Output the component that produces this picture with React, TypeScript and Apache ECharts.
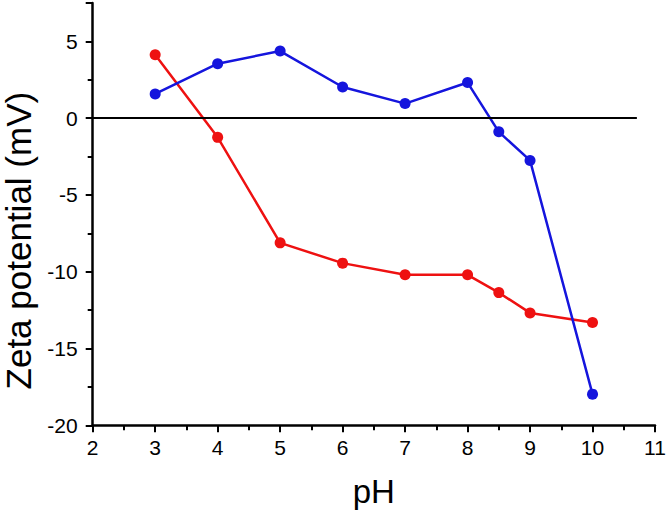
import React, { useEffect, useRef } from "react";
import * as echarts from "echarts";

const phValues = [3, 4, 5, 6, 7, 8, 8.5, 9, 10];
const blueSeries = [1.58, 3.55, 4.37, 2.03, 0.95, 2.32, -0.89, -2.75, -17.97];
const redSeries = [4.13, -1.25, -8.12, -9.44, -10.2, -10.2, -11.36, -12.68, -13.3];
const zeroLineEnd = 10.71;

export default function App() {
  const ref = useRef<HTMLDivElement>(null);
  useEffect(() => {
    document.body.style.margin = "0";
    const chart = echarts.init(ref.current!, null, { renderer: "svg" });
    const font = "Liberation Sans, Arial, sans-serif";
    const mk = (vals: number[]) => phValues.map((x, i) => [x, vals[i]]);
    chart.setOption({
      animation: false,
      backgroundColor: "#ffffff",
      grid: {
        left: 92.7,
        right: 11,
        top: 3,
        bottom: 89.7,
        containLabel: false,
        outerBoundsMode: "none",
      },
      xAxis: {
        type: "value",
        min: 2,
        max: 11,
        interval: 1,
        name: "pH",
        nameLocation: "middle",
        nameGap: 50,
        nameTextStyle: { fontSize: 33, color: "#000", fontFamily: font },
        axisLine: { show: true, onZero: false, lineStyle: { color: "#000", width: 2.5 } },
        axisTick: { show: true, inside: false, length: 7, lineStyle: { color: "#000", width: 2 } },
        minorTick: { show: true, splitNumber: 2, length: 5, lineStyle: { color: "#000", width: 2 } },
        axisLabel: { fontSize: 21, color: "#000", fontFamily: font, margin: 12 },
        splitLine: { show: false },
      },
      yAxis: {
        type: "value",
        min: -20,
        max: 7.5,
        interval: 5,
        name: "Zeta potential (mV)",
        nameLocation: "middle",
        nameGap: 57,
        nameTextStyle: {
          fontSize: 35,
          color: "#000",
          fontFamily: font,
          padding: [0, 53, 0, 0],
        },
        axisLine: { show: true, onZero: false, lineStyle: { color: "#000", width: 2.5 } },
        axisTick: { show: true, inside: false, length: 7, lineStyle: { color: "#000", width: 2 } },
        minorTick: { show: true, splitNumber: 2, length: 5, lineStyle: { color: "#000", width: 2 } },
        axisLabel: {
          fontSize: 21,
          color: "#000",
          fontFamily: font,
          margin: 15,
          formatter: (v: number) => (v > 5 ? "" : String(v)),
        },
        splitLine: { show: false },
      },
      series: [
        {
          type: "line",
          data: mk(redSeries),
          symbol: "circle",
          symbolSize: 11,
          lineStyle: { color: "#ee1111", width: 2.5 },
          itemStyle: { color: "#ee1111" },
          z: 3,
          markLine: {
            silent: true,
            symbol: "none",
            label: { show: false },
            lineStyle: { color: "#000", width: 1.8, type: "solid" },
            data: [[{ coord: [2, 0] }, { coord: [zeroLineEnd, 0] }]],
          },
        },
        {
          type: "line",
          data: mk(blueSeries),
          symbol: "circle",
          symbolSize: 11,
          lineStyle: { color: "#1515dd", width: 2.5 },
          itemStyle: { color: "#1515dd" },
          z: 4,
        },
      ],
    });
    return () => chart.dispose();
  }, []);
  return <div ref={ref} style={{ width: 666, height: 515 }} />;
}
